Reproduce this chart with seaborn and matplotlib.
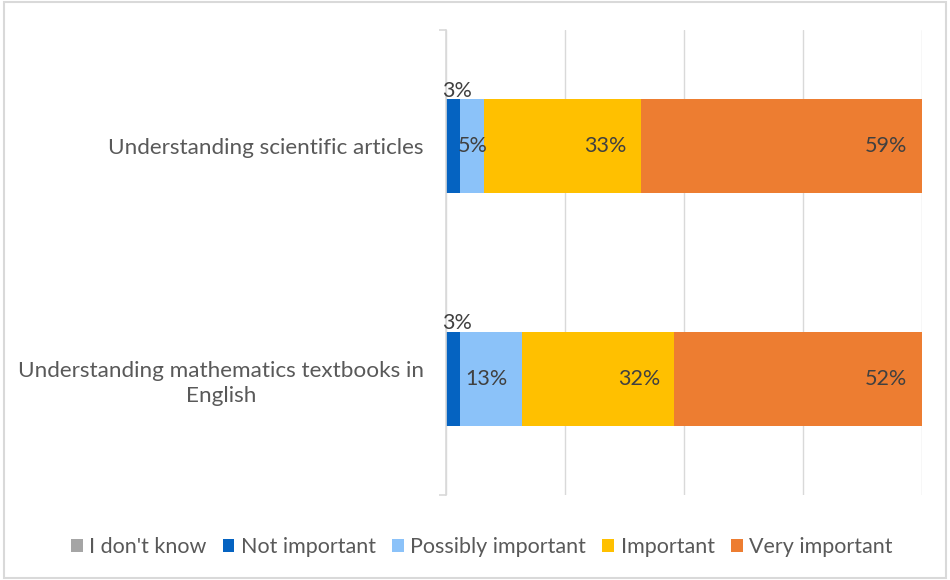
import numpy as np
import pandas as pd
import seaborn as sns
import matplotlib.pyplot as plt
from matplotlib.patches import Rectangle

categories = ["Understanding scientific articles",
              "Understanding mathematics textbooks in\nEnglish"]
series_names = ["I don't know", "Not important", "Possibly important", "Important", "Very important"]
dont_know = [0, 0]
not_important = [3, 3]
possibly_important = [5, 13]
important = [33, 32]
very_important = [59, 52]
colors = ["#A5A5A5", "#0563C1", "#8BC2F9", "#FFC000", "#ED7D31"]
x_ticks = [0, 25, 50, 75, 100]

values = np.array([dont_know, not_important, possibly_important, important, very_important])
cum = np.cumsum(values, axis=0)

sns.set_theme(style="white")
plt.rcParams['font.family'] = ['Lato', 'DejaVu Sans']
FS = 15.5

fig = plt.figure(figsize=(9.5, 5.8), dpi=100)
ax = fig.add_axes([0.4695, 0.1466, 0.501, 0.8017])

for i in reversed(range(len(series_names))):
    df = pd.DataFrame({"cat": categories, "val": cum[i]})
    sns.barplot(data=df, x="val", y="cat", orient="h", color=colors[i],
                saturation=1, width=0.404, linewidth=0, ax=ax, zorder=2)

ax.set_xlim(0, 100)
ax.set_ylim(1.5, -0.5)
ax.set_xticks(x_ticks)
ax.set_xticklabels([])
ax.xaxis.grid(True, color="#D9D9D9", lw=1)
ax.yaxis.grid(False)
ax.set_axisbelow(True)
ax.set_xlabel("")
ax.set_ylabel("")
for s in ["top", "right", "bottom"]:
    ax.spines[s].set_visible(False)
ax.spines["left"].set_color("#D9D9D9")
ax.spines["left"].set_linewidth(1.2)
ax.tick_params(axis="x", length=0)
ax.set_yticks([0, 1])
ax.set_yticklabels(categories, fontsize=16.2, color="#595959", multialignment="center",
                   linespacing=1.3)
ax.tick_params(axis="y", which="major", length=0, pad=16)
ax.set_yticks([-0.5, 1.5], minor=True)
ax.tick_params(axis="y", which="minor", left=True, length=5, width=1.2,
               color="#D9D9D9", direction="out")

for i in range(1, len(series_names)):
    for j in range(len(categories)):
        v = values[i][j]
        if v == 0:
            continue
        end = cum[i][j]
        start = end - v
        txt = f"{v}%"
        kw = dict(fontsize=FS, color="#404040", textcoords="offset points", zorder=5)
        if v <= 3:
            ax.annotate(txt, xy=(start + v / 2, j - 0.202), xytext=(3, -1),
                        ha="center", va="bottom", **kw)
        elif v <= 5:
            ax.annotate(txt, xy=(start, j), xytext=(-2, 0), ha="left", va="center", **kw)
        else:
            ax.annotate(txt, xy=(end, j), xytext=(-10.5, 0), ha="right", va="center", **kw)

handles = [Rectangle((0, 0), 1, 1, facecolor=c, edgecolor="none") for c in colors]
fig.legend(handles, series_names, loc="center", bbox_to_anchor=(0.507, 0.057), ncol=5,
           frameon=False, handlelength=0.55, handleheight=0.55, handletextpad=0.3,
           columnspacing=0.75, fontsize=FS, labelcolor="#595959")

fig.add_artist(Rectangle((0.004, 0.004), 0.992, 0.992, transform=fig.transFigure,
                         fill=False, edgecolor="#D9D9D9", lw=1.5))

fig.savefig("out.png", dpi=100)
